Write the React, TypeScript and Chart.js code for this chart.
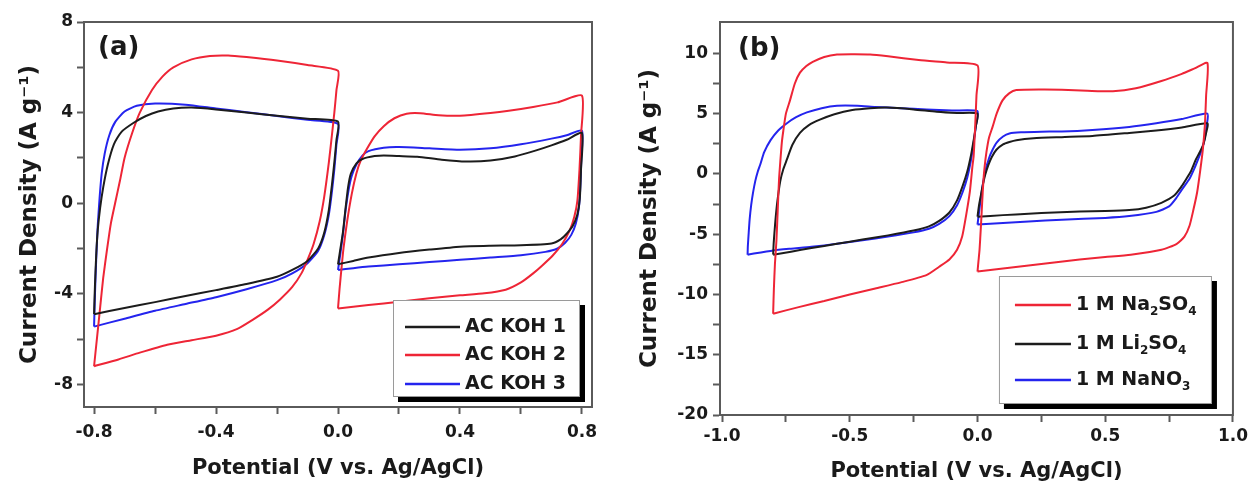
import React, { useEffect, useRef } from 'react';
import { Chart, registerables } from 'chart.js';

Chart.register(...registerables);

type P = [number, number];

// ---------- Panel (a): AC KOH samples (closed CV loops: anodic branch, then cathodic back) ----------
const koh1Neg: P[] = [
  [-0.8, -4.9], [-0.797, -3.6], [-0.793, -2.3], [-0.788, -1.2], [-0.78, -0.2], [-0.77, 0.7], [-0.755, 1.7],
  [-0.735, 2.6], [-0.71, 3.15], [-0.67, 3.55], [-0.63, 3.85], [-0.59, 4.05], [-0.54, 4.18], [-0.48, 4.22],
  [-0.4, 4.14], [-0.3, 4.0], [-0.2, 3.86], [-0.1, 3.73], [0, 3.6],
  [-0.005, 2.8], [-0.012, 1.8], [-0.02, 0.8], [-0.03, -0.3], [-0.045, -1.3], [-0.065, -2.0], [-0.1, -2.55],
  [-0.15, -2.95], [-0.2, -3.25], [-0.3, -3.57], [-0.4, -3.84], [-0.5, -4.1], [-0.6, -4.37], [-0.7, -4.63], [-0.8, -4.9],
];
const koh1Pos: P[] = [
  [0, -2.7], [0.008, -2.0], [0.016, -1.3], [0.025, -0.2], [0.033, 0.7], [0.042, 1.3], [0.06, 1.75], [0.08, 1.95],
  [0.12, 2.08], [0.15, 2.1], [0.2, 2.08], [0.26, 2.05], [0.34, 1.92], [0.42, 1.84], [0.5, 1.88], [0.58, 2.06],
  [0.65, 2.33], [0.7, 2.55], [0.75, 2.8], [0.8, 3.1],
  [0.797, 1.5], [0.793, 0.2], [0.785, -0.5], [0.77, -1.0], [0.75, -1.35], [0.73, -1.6], [0.7, -1.78], [0.6, -1.86],
  [0.5, -1.88], [0.4, -1.92], [0.3, -2.05], [0.2, -2.2], [0.1, -2.4], [0.05, -2.55], [0, -2.7],
];
const koh2Neg: P[] = [
  [-0.8, -7.2], [-0.79, -5.9], [-0.78, -4.6], [-0.77, -3.3], [-0.757, -2.0], [-0.745, -0.9], [-0.731, 0],
  [-0.715, 1.0], [-0.7, 2.0], [-0.675, 3.1], [-0.65, 4.0], [-0.61, 5.0], [-0.575, 5.6], [-0.54, 6.0],
  [-0.48, 6.35], [-0.42, 6.5], [-0.36, 6.52], [-0.3, 6.45], [-0.2, 6.3], [-0.1, 6.1], [0, 5.85],
  [-0.005, 5.0], [-0.012, 4.0], [-0.02, 3.0], [-0.03, 1.8], [-0.045, 0.3], [-0.06, -0.8], [-0.08, -1.8],
  [-0.1, -2.5], [-0.12, -3.1], [-0.15, -3.7], [-0.19, -4.25], [-0.23, -4.7], [-0.28, -5.15], [-0.33, -5.55],
  [-0.4, -5.85], [-0.48, -6.05], [-0.56, -6.25], [-0.65, -6.6], [-0.72, -6.9], [-0.8, -7.2],
];
const koh2Pos: P[] = [
  [0, -4.65], [0.005, -3.8], [0.012, -2.8], [0.018, -2.0], [0.03, -0.8], [0.045, 0.4], [0.06, 1.3], [0.075, 1.9],
  [0.095, 2.4], [0.12, 2.95], [0.15, 3.4], [0.185, 3.75], [0.225, 3.95], [0.27, 3.97], [0.33, 3.88], [0.4, 3.86],
  [0.5, 3.98], [0.56, 4.08], [0.64, 4.25], [0.72, 4.45], [0.8, 4.75],
  [0.797, 3.0], [0.792, 1.5], [0.785, 0.1], [0.775, -0.6], [0.76, -1.2], [0.735, -1.8], [0.705, -2.3],
  [0.67, -2.75], [0.64, -3.1], [0.6, -3.5], [0.55, -3.82], [0.48, -3.98], [0.4, -4.07], [0.3, -4.2],
  [0.2, -4.35], [0.1, -4.5], [0, -4.65],
];
const koh3Neg: P[] = [
  [-0.8, -5.45], [-0.797, -4.0], [-0.793, -2.5], [-0.788, -1.0], [-0.782, 0.2], [-0.775, 1.3], [-0.765, 2.2],
  [-0.75, 3.0], [-0.73, 3.6], [-0.7, 4.05], [-0.66, 4.3], [-0.6, 4.4], [-0.5, 4.35], [-0.4, 4.18], [-0.3, 4.02],
  [-0.2, 3.85], [-0.1, 3.68], [0, 3.5],
  [-0.005, 2.6], [-0.012, 1.5], [-0.02, 0.5], [-0.03, -0.5], [-0.045, -1.4], [-0.065, -2.1], [-0.1, -2.65],
  [-0.15, -3.1], [-0.2, -3.4], [-0.3, -3.8], [-0.4, -4.15], [-0.5, -4.45], [-0.6, -4.75], [-0.7, -5.1], [-0.8, -5.45],
];
const koh3Pos: P[] = [
  [0, -2.95], [0.008, -2.2], [0.016, -1.4], [0.025, -0.3], [0.035, 0.6], [0.045, 1.2], [0.06, 1.7], [0.08, 2.1],
  [0.1, 2.3], [0.15, 2.45], [0.2, 2.48], [0.3, 2.42], [0.4, 2.36], [0.5, 2.42], [0.6, 2.6], [0.7, 2.85],
  [0.75, 3.0], [0.8, 3.2],
  [0.798, 2.0], [0.795, 0.8], [0.79, -0.2], [0.78, -0.9], [0.765, -1.4], [0.745, -1.75], [0.72, -2.0],
  [0.68, -2.15], [0.6, -2.3], [0.5, -2.4], [0.4, -2.5], [0.3, -2.6], [0.2, -2.7], [0.1, -2.8], [0.05, -2.87], [0, -2.95],
];

// ---------- Panel (b): electrolytes ----------
const na2so4Neg: P[] = [
  [-0.8, -11.6], [-0.797, -9.5], [-0.793, -7.5], [-0.787, -5.5], [-0.782, -3.0], [-0.777, -0.5], [-0.772, 1.0],
  [-0.766, 2.6], [-0.76, 3.6], [-0.75, 5.0], [-0.734, 6.1], [-0.715, 7.5], [-0.695, 8.4], [-0.67, 8.95],
  [-0.645, 9.3], [-0.6, 9.7], [-0.55, 9.9], [-0.48, 9.92], [-0.42, 9.9], [-0.35, 9.75], [-0.23, 9.45],
  [-0.12, 9.25], [0, 9.0],
  [-0.004, 6.5], [-0.009, 4.0], [-0.015, 1.5], [-0.02, 0.6], [-0.03, -1.5], [-0.045, -3.5], [-0.06, -5.2],
  [-0.08, -6.3], [-0.11, -7.1], [-0.15, -7.7], [-0.2, -8.4], [-0.3, -9.0], [-0.4, -9.5], [-0.5, -10.0],
  [-0.6, -10.55], [-0.7, -11.05], [-0.8, -11.6],
];
const na2so4Pos: P[] = [
  [0, -8.1], [0.004, -7.2], [0.008, -6.3], [0.013, -4.5], [0.018, -2.5], [0.023, -0.6], [0.028, 0.6],
  [0.035, 1.8], [0.045, 3.0], [0.059, 3.9], [0.075, 5.0], [0.098, 6.1], [0.125, 6.7], [0.152, 6.95],
  [0.25, 7.0], [0.33, 6.98], [0.43, 6.9], [0.53, 6.85], [0.62, 7.1], [0.72, 7.7], [0.8, 8.3], [0.85, 8.75], [0.9, 9.2],
  [0.895, 6.5], [0.89, 4.0], [0.882, 2.0], [0.872, 0.3], [0.86, -1.5], [0.845, -3.0], [0.83, -4.3],
  [0.81, -5.2], [0.78, -5.8], [0.72, -6.3], [0.6, -6.7], [0.5, -6.9], [0.4, -7.1], [0.3, -7.35],
  [0.2, -7.6], [0.1, -7.85], [0, -8.1],
];
const li2so4Neg: P[] = [
  [-0.8, -6.7], [-0.798, -5.8], [-0.795, -4.9], [-0.79, -3.6], [-0.783, -2.2], [-0.772, -0.6], [-0.76, 0.4],
  [-0.746, 1.2], [-0.725, 2.4], [-0.695, 3.4], [-0.66, 4.05], [-0.617, 4.5], [-0.56, 4.95], [-0.49, 5.3],
  [-0.42, 5.45], [-0.355, 5.5], [-0.25, 5.35], [-0.16, 5.15], [-0.08, 5.05], [0, 5.0],
  [-0.006, 4.0], [-0.015, 2.8], [-0.025, 1.6], [-0.04, 0.2], [-0.058, -1.0], [-0.08, -2.2], [-0.11, -3.2],
  [-0.15, -3.9], [-0.19, -4.35], [-0.25, -4.7], [-0.35, -5.1], [-0.45, -5.45], [-0.55, -5.8], [-0.65, -6.15],
  [-0.73, -6.45], [-0.8, -6.7],
];
const li2so4Pos: P[] = [
  [0, -3.55], [0.006, -2.6], [0.013, -1.8], [0.02, -1.0], [0.03, -0.1], [0.042, 0.7], [0.056, 1.4], [0.074, 2.0],
  [0.1, 2.45], [0.125, 2.65], [0.152, 2.8], [0.22, 2.95], [0.33, 3.05], [0.45, 3.15], [0.594, 3.4], [0.7, 3.6],
  [0.8, 3.85], [0.9, 4.2],
  [0.895, 3.4], [0.885, 2.5], [0.87, 1.8], [0.855, 1.2], [0.835, 0.2], [0.815, -0.5], [0.8, -1.0], [0.77, -1.8],
  [0.72, -2.4], [0.66, -2.8], [0.594, -3.0], [0.5, -3.08], [0.4, -3.12], [0.3, -3.2], [0.2, -3.3], [0.1, -3.42], [0, -3.55],
];
const nano3Neg: P[] = [
  [-0.9, -6.7], [-0.899, -6.0], [-0.896, -5.0], [-0.892, -3.8], [-0.886, -2.6], [-0.879, -1.6], [-0.87, -0.6],
  [-0.86, 0.2], [-0.85, 0.8], [-0.835, 1.8], [-0.81, 2.8], [-0.78, 3.6], [-0.746, 4.2], [-0.71, 4.7],
  [-0.668, 5.1], [-0.61, 5.45], [-0.55, 5.65], [-0.47, 5.65], [-0.4, 5.55], [-0.3, 5.45], [-0.2, 5.35],
  [-0.1, 5.25], [0, 5.2],
  [-0.006, 4.0], [-0.015, 2.6], [-0.025, 1.2], [-0.04, -0.3], [-0.058, -1.5], [-0.08, -2.6], [-0.11, -3.5],
  [-0.15, -4.15], [-0.19, -4.55], [-0.25, -4.85], [-0.35, -5.2], [-0.45, -5.5], [-0.55, -5.8], [-0.65, -6.05],
  [-0.73, -6.2], [-0.8, -6.35], [-0.9, -6.7],
];
const nano3Pos: P[] = [
  [0, -4.2], [0.006, -3.2], [0.012, -2.2], [0.02, -1.0], [0.03, 0.2], [0.045, 1.3], [0.059, 2.0], [0.075, 2.6],
  [0.1, 3.1], [0.125, 3.35], [0.17, 3.45], [0.25, 3.5], [0.33, 3.52], [0.45, 3.65], [0.594, 3.9], [0.7, 4.2],
  [0.8, 4.55], [0.9, 5.0],
  [0.897, 4.0], [0.89, 3.0], [0.88, 2.1], [0.867, 1.4], [0.85, 0.5], [0.83, -0.4], [0.8, -1.3], [0.775, -2.1],
  [0.75, -2.7], [0.7, -3.15], [0.594, -3.5], [0.5, -3.65], [0.33, -3.8], [0.2, -3.95], [0.1, -4.08], [0, -4.2],
];

// ---------- Labels & ticks ----------
const aSeries = ['AC KOH 1', 'AC KOH 2', 'AC KOH 3'];
const bSeries = ['1 M Na₂SO₄', '1 M Li₂SO₄', '1 M NaNO₃'];

const aXTicks = [-0.8, -0.6, -0.4, -0.2, 0, 0.2, 0.4, 0.6, 0.8];
const aXLabels = ['-0.8', '', '-0.4', '', '0.0', '', '0.4', '', '0.8'];
const aYTicks = [-8, -6, -4, -2, 0, 2, 4, 6, 8];
const aYLabels = ['-8', '', '-4', '', '0', '', '4', '', '8'];
const bXTicks = [-1, -0.75, -0.5, -0.25, 0, 0.25, 0.5, 0.75, 1];
const bXLabels = ['-1.0', '', '-0.5', '', '0.0', '', '0.5', '', '1.0'];
const bYTicks = [-20, -17.5, -15, -12.5, -10, -7.5, -5, -2.5, 0, 2.5, 5, 7.5, 10];
const bYLabels = ['-20', '', '-15', '', '-10', '', '-5', '', '0', '', '5', '', '10'];

const xTitle = 'Potential (V vs. Ag/AgCl)';
const yTitle = 'Current Density (A g⁻¹)';

const RED = '#ee2536';
const BLACK = '#1c1c1c';
const BLUE = '#2424ee';
const FONT = "'DejaVu Sans', 'Liberation Sans', Arial, sans-serif";

const SUBS: Record<string, string> = { '₀': '0', '₁': '1', '₂': '2', '₃': '3', '₄': '4', '₅': '5', '₆': '6', '₇': '7', '₈': '8', '₉': '9' };

function loopsToData(...loops: P[][]) {
  const out: { x: number; y: number | null }[] = [];
  loops.forEach((loop, i) => {
    if (i > 0) out.push({ x: loop[0][0], y: null });
    loop.forEach(([x, y]) => out.push({ x, y }));
  });
  return out;
}

function drawRich(ctx: CanvasRenderingContext2D, text: string, x: number, y: number, size: number, subSize: number, subDy: number) {
  let cx = x;
  let buf = '';
  const flush = () => {
    if (!buf) return;
    ctx.font = `bold ${size}px ${FONT}`;
    ctx.fillText(buf, cx, y);
    cx += ctx.measureText(buf).width;
    buf = '';
  };
  for (const ch of text) {
    if (SUBS[ch]) {
      flush();
      ctx.font = `bold ${subSize}px ${FONT}`;
      ctx.fillText(SUBS[ch], cx, y + subDy);
      cx += ctx.measureText(SUBS[ch]).width;
    } else {
      buf += ch;
    }
  }
  flush();
}

const decor = {
  id: 'cvDecor',
  afterDraw(chart: any, _args: any, opts: any) {
    const { ctx, chartArea } = chart;
    ctx.save();
    // frame
    ctx.strokeStyle = '#5a5a5a';
    ctx.lineWidth = 2;
    ctx.strokeRect(chartArea.left, chartArea.top, chartArea.right - chartArea.left, chartArea.bottom - chartArea.top);
    // panel label
    ctx.fillStyle = '#1a1a1a';
    ctx.textBaseline = 'middle';
    ctx.textAlign = 'left';
    ctx.font = `bold ${opts.labelSize}px ${FONT}`;
    ctx.fillText(opts.label, chartArea.left + opts.labelDx, chartArea.top + opts.labelDy);
    // legend box
    const x0 = chartArea.right - opts.boxRight - opts.boxW;
    const y0 = chartArea.bottom - opts.boxBottom - opts.boxH;
    ctx.fillStyle = '#000';
    ctx.fillRect(x0 + opts.shadow, y0 + opts.shadow, opts.boxW, opts.boxH);
    ctx.fillStyle = '#fff';
    ctx.fillRect(x0, y0, opts.boxW, opts.boxH);
    ctx.strokeStyle = '#9a9a9a';
    ctx.lineWidth = 1;
    ctx.strokeRect(x0 + 0.5, y0 + 0.5, opts.boxW - 1, opts.boxH - 1);
    chart.data.datasets.forEach((ds: any, i: number) => {
      const y = y0 + opts.rows[i];
      ctx.strokeStyle = ds.borderColor;
      ctx.lineWidth = 2.5;
      ctx.beginPath();
      ctx.moveTo(x0 + opts.lineX0, y);
      ctx.lineTo(x0 + opts.lineX1, y);
      ctx.stroke();
      ctx.fillStyle = '#1a1a1a';
      ctx.textBaseline = 'middle';
      drawRich(ctx, ds.label, x0 + opts.textX, y, opts.fontSize, opts.subSize, opts.subDy);
    });
    ctx.restore();
  },
};

interface PanelSpec {
  datasets: { label: string; color: string; data: { x: number; y: number | null }[] }[];
  xMin: number; xMax: number; yMin: number; yMax: number;
  xTicks: number[]; xLabels: string[]; yTicks: number[]; yLabels: string[];
  yAxisW: number; xAxisH: number;
  padding: { left: number; right: number; top: number; bottom: number };
  xTickPad: number; yTickPad: number; xTitleBottom: number;
  decor: any;
}

function makeConfig(p: PanelSpec): any {
  const tickFont = { family: FONT, weight: 'bold' as const, size: 17 };
  const xTitleFont = { family: FONT, weight: 'bold' as const, size: 21 };
  const yTitleFont = { family: FONT, weight: 'bold' as const, size: 23 };
  const grid = { display: true, drawOnChartArea: false, drawTicks: true, tickLength: 7, tickWidth: 2, tickColor: '#5a5a5a' };
  const border = { display: true, color: '#5a5a5a', width: 2 };
  return {
    type: 'line',
    data: {
      datasets: p.datasets.map((d) => ({
        label: d.label,
        data: d.data,
        borderColor: d.color,
        backgroundColor: d.color,
        borderWidth: 2,
        pointRadius: 0,
        fill: false,
        tension: 0.2,
        spanGaps: false,
      })),
    },
    options: {
      responsive: false,
      animation: false,
      events: [],
      layout: { padding: p.padding },
      plugins: {
        legend: { display: false },
        tooltip: { enabled: false },
        cvDecor: p.decor,
      },
      scales: {
        x: {
          type: 'linear',
          min: p.xMin,
          max: p.xMax,
          afterBuildTicks: (s: any) => { s.ticks = p.xTicks.map((v) => ({ value: v })); },
          afterFit: (s: any) => { s.height = p.xAxisH; },
          ticks: {
            autoSkip: false, maxRotation: 0, minRotation: 0, padding: p.xTickPad, color: '#1a1a1a', font: tickFont,
            callback: (_v: any, i: number) => p.xLabels[i],
          },
          grid, border,
          title: { display: true, text: xTitle, color: '#1a1a1a', font: xTitleFont, padding: { top: 0, bottom: p.xTitleBottom } },
        },
        y: {
          type: 'linear',
          min: p.yMin,
          max: p.yMax,
          afterBuildTicks: (s: any) => { s.ticks = p.yTicks.map((v) => ({ value: v })); },
          afterFit: (s: any) => { s.width = p.yAxisW; },
          ticks: {
            autoSkip: false, padding: p.yTickPad, color: '#1a1a1a', font: tickFont,
            callback: (_v: any, i: number) => p.yLabels[i],
          },
          grid, border,
          title: { display: true, text: yTitle, color: '#1a1a1a', font: yTitleFont, padding: { top: 16, bottom: 0 } },
        },
      },
    },
    plugins: [decor],
  };
}

const panelA: PanelSpec = {
  datasets: [
    { label: aSeries[0], color: BLACK, data: loopsToData(koh1Neg, koh1Pos) },
    { label: aSeries[1], color: RED, data: loopsToData(koh2Neg, koh2Pos) },
    { label: aSeries[2], color: BLUE, data: loopsToData(koh3Neg, koh3Pos) },
  ],
  xMin: -0.833, xMax: 0.833, yMin: -9, yMax: 8,
  xTicks: aXTicks, xLabels: aXLabels, yTicks: aYTicks, yLabels: aYLabels,
  yAxisW: 84, xAxisH: 77,
  padding: { left: 0, right: 28, top: 22, bottom: 0 },
  xTickPad: 8, yTickPad: 4, xTitleBottom: 3,
  decor: {
    label: '(a)', labelSize: 26, labelDx: 14, labelDy: 26,
    boxRight: 12, boxBottom: 10, boxW: 187, boxH: 97, shadow: 5,
    rows: [27, 55, 84], lineX0: 12, lineX1: 67, textX: 72, fontSize: 19, subSize: 12, subDy: 6,
  },
};

const panelB: PanelSpec = {
  datasets: [
    { label: bSeries[0], color: RED, data: loopsToData(na2so4Neg, na2so4Pos) },
    { label: bSeries[1], color: BLACK, data: loopsToData(li2so4Neg, li2so4Pos) },
    { label: bSeries[2], color: BLUE, data: loopsToData(nano3Neg, nano3Pos) },
  ],
  xMin: -1.008, xMax: 1.0, yMin: -20, yMax: 12.6,
  xTicks: bXTicks, xLabels: bXLabels, yTicks: bYTicks, yLabels: bYLabels,
  yAxisW: 100, xAxisH: 69,
  padding: { left: 0, right: 19, top: 22, bottom: 0 },
  xTickPad: 4, yTickPad: 5, xTitleBottom: 0,
  decor: {
    label: '(b)', labelSize: 26, labelDx: 18, labelDy: 27,
    boxRight: 21, boxBottom: 11, boxW: 213, boxH: 128, shadow: 5,
    rows: [29, 68, 104], lineX0: 16, lineX1: 72, textX: 77, fontSize: 19, subSize: 12, subDy: 7,
  },
};

function ChartCanvas({ spec, left, width }: { spec: PanelSpec; left: number; width: number }) {
  const ref = useRef<HTMLCanvasElement | null>(null);
  useEffect(() => {
    if (!ref.current) return;
    const chart = new Chart(ref.current, makeConfig(spec));
    return () => chart.destroy();
  }, [spec]);
  return (
    <canvas
      ref={ref}
      width={width}
      height={484}
      style={{ position: 'absolute', left, top: 0, width, height: 484 }}
    />
  );
}

export default function App() {
  return (
    <div style={{ position: 'fixed', left: 0, top: 0, width: 1252, height: 484, background: '#fff', overflow: 'hidden' }}>
      <ChartCanvas spec={panelA} left={0} width={620} />
      <ChartCanvas spec={panelB} left={620} width={632} />
    </div>
  );
}
